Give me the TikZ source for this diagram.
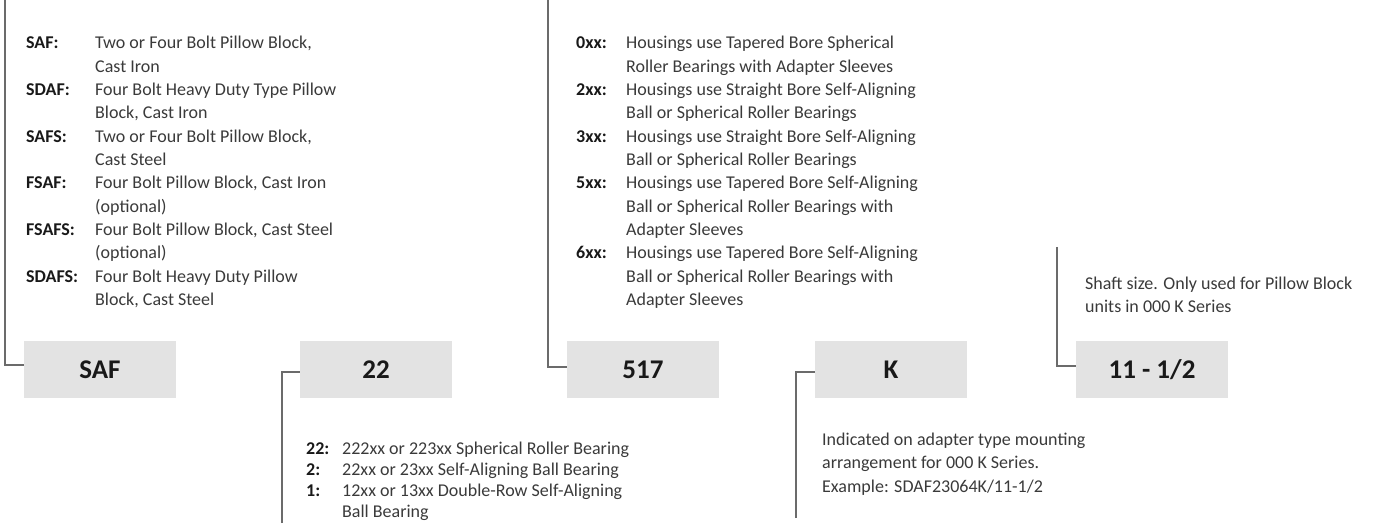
\documentclass[tikz,border=0pt]{standalone}
\usepackage{fontspec}
\setmainfont{Carlito}
\definecolor{boxgrey}{HTML}{E3E3E3}
\definecolor{leadgrey}{HTML}{6B6B6B}
\definecolor{notegrey}{HTML}{3A3A3A}
\colorlet{codeblack}{black!90}
\tikzset{
  part/.style={fill=boxgrey, minimum width=152pt, minimum height=57pt, inner sep=0pt,
               font=\fontsize{27}{30}\selectfont\bfseries, text=codeblack},
  key/.style={anchor=base west, inner sep=0pt,
              font=\fontsize{18}{22}\selectfont\bfseries, text=codeblack},
  note/.style={anchor=base west, inner sep=0pt,
               font=\fontsize{18}{22}\selectfont, text=notegrey},
  lead/.style={draw=leadgrey, line width=2pt}
}

\begin{document}
\begin{tikzpicture}[x=1pt, y=-1pt]
  \useasboundingbox (0,0) rectangle (1375,529);

  % code boxes
  \node[part] (saf)   at (100,  369.5) {SAF};
  \node[part] (two)   at (376,  369.5) {22};
  \node[part] (bore)  at (643,  369.5) {517};
  \node[part] (kser)  at (891,  369.5) {K};
  \node[part] (shaft) at (1152, 369.5) {11 - 1/2};

  % leader ends
  \coordinate (saftop)   at (5,    0);
  \coordinate (twoend)   at (282,  523);
  \coordinate (boretop)  at (548,  0);
  \coordinate (kend)     at (796,  518);
  \coordinate (shafttop) at (1057, 247);

  % leaders
  \draw[lead] (saftop)   |- ([yshift=4.5pt]saf.west);
  \draw[lead] (twoend)   |- ([yshift=-2.5pt]two.west);
  \draw[lead] (boretop)  |- ([yshift=2.5pt]bore.west);
  \draw[lead] (kend)     |- ([yshift=-2.5pt]kser.west);
  \draw[lead] (shafttop) |- ([yshift=3.5pt]shaft.west);

  % housing types
  \foreach \k/\n in {SAF:/0, SDAF:/2, SAFS:/4, FSAF:/6, FSAFS:/8, SDAFS:/10}
    \node[key] (safk\n) at (26, {49+23.3*\n}) {\k};
  \foreach \t [count=\i from 0] in {{Two or Four Bolt Pillow Block,}, Cast Iron,
      Four Bolt Heavy Duty Type Pillow, {Block, Cast Iron},
      {Two or Four Bolt Pillow Block,}, Cast Steel,
      {Four Bolt Pillow Block, Cast Iron}, (optional),
      {Four Bolt Pillow Block, Cast Steel}, (optional),
      Four Bolt Heavy Duty Pillow, {Block, Cast Steel}}
    \node[note] (safd\i) at (95, {49+23.3*\i}) {\t};

  % bore series
  \foreach \k/\n in {0xx:/0, 2xx:/2, 3xx:/4, 5xx:/6, 6xx:/9}
    \node[key] (borek\n) at (576, {49+23.3*\n}) {\k};
  \foreach \t [count=\i from 0] in {Housings use Tapered Bore Spherical,
      Roller Bearings with Adapter Sleeves,
      Housings use Straight Bore Self-Aligning, Ball or Spherical Roller Bearings,
      Housings use Straight Bore Self-Aligning, Ball or Spherical Roller Bearings,
      Housings use Tapered Bore Self-Aligning, Ball or Spherical Roller Bearings with,
      Adapter Sleeves,
      Housings use Tapered Bore Self-Aligning, Ball or Spherical Roller Bearings with,
      Adapter Sleeves}
    \node[note] (bored\i) at (626, {49+23.3*\i}) {\t};

  % bearing series
  \foreach \k/\n in {22:/0, 2:/1, 1:/2}
    \node[key] (twok\n) at (306, {454+21*\n}) {\k};
  \foreach \t [count=\i from 0] in {222xx or 223xx Spherical Roller Bearing,
      22xx or 23xx Self-Aligning Ball Bearing,
      12xx or 13xx Double-Row Self-Aligning, Ball Bearing}
    \node[note] (twod\i) at (342, {454+21*\i}) {\t};

  % adapter mounting
  \foreach \t [count=\i from 0] in {Indicated on adapter type mounting,
      arrangement for 000 K Series., Example: SDAF23064K/11-1/2}
    \node[note] (kd\i) at (822, {445+23.5*\i}) {\t};

  % shaft size
  \foreach \t [count=\i from 0] in {Shaft size. Only used for Pillow Block,
      units in 000 K Series}
    \node[note] (shaftd\i) at (1085, {289+23.3*\i}) {\t};
\end{tikzpicture}
\end{document}
